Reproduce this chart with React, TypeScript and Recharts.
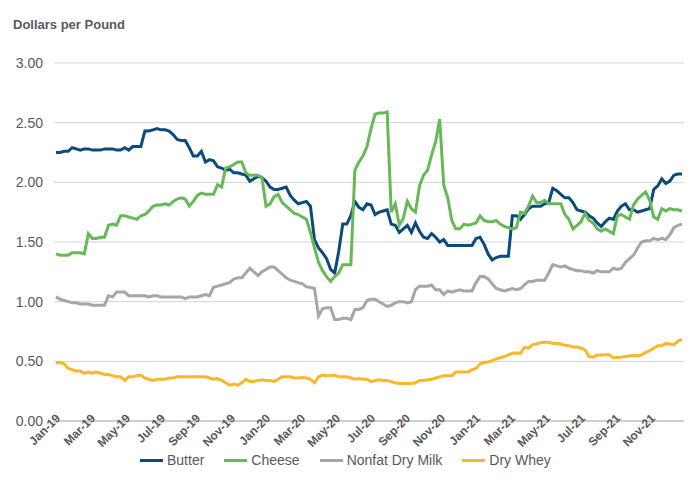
import { LineChart, Line, XAxis, YAxis, CartesianGrid } from 'recharts';

// weekly prices, Jan 2019 – Dec 2021, dollars per pound
const monthLabels = [
  'Jan-19', 'Mar-19', 'May-19', 'Jul-19', 'Sep-19', 'Nov-19',
  'Jan-20', 'Mar-20', 'May-20', 'Jul-20', 'Sep-20', 'Nov-20',
  'Jan-21', 'Mar-21', 'May-21', 'Jul-21', 'Sep-21', 'Nov-21',
];

const butter = [
  2.25, 2.25, 2.26, 2.26, 2.29, 2.28, 2.27, 2.28, 2.28, 2.27, 2.27, 2.27, 2.28, 2.28, 2.28, 2.27, 2.27, 2.29, 2.27, 2.30, 2.30, 2.30, 2.43, 2.43, 2.44, 2.45, 2.44,
  2.44, 2.43, 2.40, 2.36, 2.35, 2.35, 2.29, 2.22, 2.22, 2.26, 2.17, 2.19, 2.18, 2.13, 2.12, 2.10, 2.11, 2.08, 2.08, 2.07, 2.06, 2.01, 2.03, 2.05, 2.04, 2.01, 1.96,
  1.94, 1.94, 1.95, 1.96, 1.89, 1.85, 1.82, 1.83, 1.84, 1.80, 1.52, 1.45, 1.41, 1.36, 1.27, 1.24, 1.42, 1.65, 1.65, 1.72, 1.84, 1.79, 1.77, 1.82, 1.81, 1.73, 1.75,
  1.76, 1.77, 1.65, 1.64, 1.58, 1.61, 1.64, 1.58, 1.66, 1.59, 1.54, 1.53, 1.57, 1.54, 1.50, 1.52, 1.47, 1.47, 1.47, 1.47, 1.47, 1.47, 1.47, 1.53, 1.54, 1.48, 1.40,
  1.35, 1.37, 1.38, 1.38, 1.38, 1.72, 1.72, 1.69, 1.73, 1.78, 1.80, 1.80, 1.80, 1.82, 1.83, 1.95, 1.93, 1.90, 1.87, 1.87, 1.83, 1.77, 1.76, 1.75, 1.72, 1.70,
  1.66, 1.63, 1.67, 1.70, 1.69, 1.76, 1.80, 1.82, 1.77, 1.77, 1.75, 1.76, 1.77, 1.78, 1.94, 1.97, 2.03, 1.99, 2.01, 2.06, 2.07, 2.07,
];

const cheese = [
  1.40, 1.39, 1.39, 1.39, 1.41, 1.41, 1.41, 1.40, 1.57, 1.53, 1.53, 1.54, 1.54, 1.64, 1.65, 1.64, 1.72, 1.72, 1.71, 1.70, 1.69, 1.72, 1.73, 1.76, 1.80, 1.81, 1.81,
  1.82, 1.81, 1.84, 1.86, 1.87, 1.86, 1.80, 1.84, 1.89, 1.91, 1.90, 1.90, 1.90, 1.98, 1.96, 2.12, 2.13, 2.15, 2.17, 2.17, 2.08, 2.06, 2.06, 2.06, 2.04, 1.80, 1.82,
  1.88, 1.90, 1.83, 1.80, 1.77, 1.74, 1.73, 1.71, 1.69, 1.58, 1.45, 1.33, 1.26, 1.21, 1.17, 1.21, 1.24, 1.31, 1.31, 1.31, 2.10, 2.17, 2.22, 2.30, 2.45, 2.57, 2.58,
  2.58, 2.59, 1.75, 1.82, 1.64, 1.70, 1.84, 1.78, 1.75, 1.97, 2.06, 2.10, 2.23, 2.34, 2.53, 1.98, 1.87, 1.68, 1.61, 1.61, 1.65, 1.64, 1.65, 1.66, 1.72, 1.68, 1.67,
  1.67, 1.68, 1.65, 1.63, 1.62, 1.61, 1.62, 1.75, 1.74, 1.80, 1.885, 1.83, 1.83, 1.85, 1.82, 1.82, 1.82, 1.82, 1.73, 1.69, 1.61, 1.64, 1.67, 1.74, 1.68, 1.66,
  1.61, 1.59, 1.61, 1.59, 1.57, 1.72, 1.73, 1.71, 1.69, 1.81, 1.86, 1.89, 1.92, 1.85, 1.71, 1.69, 1.78, 1.76, 1.78, 1.77, 1.77, 1.76,
];

const nonfatDryMilk = [
  1.04, 1.02, 1.01, 1.00, 0.99, 0.99, 0.98, 0.98, 0.98, 0.97, 0.97, 0.97, 0.97, 1.05, 1.04, 1.08, 1.08, 1.08, 1.05, 1.05, 1.05, 1.05, 1.05, 1.04, 1.05, 1.05, 1.04,
  1.04, 1.04, 1.04, 1.04, 1.04, 1.025, 1.04, 1.04, 1.04, 1.05, 1.06, 1.05, 1.12, 1.13, 1.14, 1.15, 1.16, 1.19, 1.20, 1.20, 1.24, 1.28, 1.25, 1.22, 1.25, 1.27, 1.29,
  1.29, 1.26, 1.23, 1.20, 1.18, 1.17, 1.16, 1.15, 1.125, 1.12, 1.11, 0.88, 0.94, 0.95, 0.95, 0.85, 0.85, 0.86, 0.86, 0.85, 0.935, 0.935, 0.95, 1.01, 1.02, 1.02, 1.00,
  0.98, 0.96, 0.97, 0.99, 1.00, 1.00, 0.99, 1.00, 1.10, 1.13, 1.13, 1.13, 1.14, 1.10, 1.10, 1.06, 1.09, 1.08, 1.09, 1.10, 1.09, 1.09, 1.09, 1.16, 1.21, 1.21, 1.19,
  1.15, 1.11, 1.10, 1.09, 1.10, 1.11, 1.10, 1.11, 1.14, 1.17, 1.17, 1.18, 1.18, 1.18, 1.24, 1.31, 1.30, 1.29, 1.30, 1.28, 1.27, 1.26, 1.26, 1.25, 1.25, 1.24,
  1.26, 1.25, 1.25, 1.25, 1.28, 1.27, 1.28, 1.33, 1.36, 1.39, 1.45, 1.50, 1.51, 1.51, 1.53, 1.52, 1.53, 1.52, 1.56, 1.62, 1.64, 1.65,
];

const dryWhey = [
  0.49, 0.49, 0.48, 0.44, 0.43, 0.42, 0.42, 0.40, 0.41, 0.40, 0.41, 0.40, 0.39, 0.39, 0.38, 0.37, 0.37, 0.34, 0.37, 0.37, 0.38, 0.385, 0.36, 0.35, 0.34, 0.35, 0.35,
  0.35, 0.36, 0.36, 0.37, 0.37, 0.37, 0.37, 0.37, 0.37, 0.37, 0.37, 0.36, 0.35, 0.355, 0.34, 0.32, 0.30, 0.31, 0.30, 0.32, 0.35, 0.33, 0.33, 0.34, 0.345, 0.34, 0.34,
  0.33, 0.35, 0.37, 0.37, 0.37, 0.36, 0.36, 0.365, 0.36, 0.35, 0.32, 0.37, 0.385, 0.38, 0.38, 0.385, 0.37, 0.37, 0.37, 0.36, 0.35, 0.355, 0.35, 0.35, 0.33, 0.34, 0.345,
  0.34, 0.34, 0.33, 0.32, 0.315, 0.315, 0.315, 0.315, 0.32, 0.34, 0.34, 0.345, 0.35, 0.36, 0.37, 0.38, 0.38, 0.38, 0.41, 0.41, 0.41, 0.41, 0.43, 0.44, 0.48, 0.49, 0.495,
  0.505, 0.52, 0.53, 0.54, 0.555, 0.567, 0.57, 0.567, 0.617, 0.61, 0.64, 0.645, 0.655, 0.66, 0.66, 0.65, 0.65, 0.645, 0.635, 0.63, 0.62, 0.62, 0.61, 0.595, 0.54, 0.535,
  0.553, 0.553, 0.555, 0.555, 0.53, 0.533, 0.535, 0.54, 0.545, 0.55, 0.545, 0.555, 0.575, 0.59, 0.61, 0.63, 0.63, 0.65, 0.645, 0.638, 0.67, 0.685,
];

const yTicks = [0, 0.5, 1, 1.5, 2, 2.5, 3];
const WEEKS = 156;
const monthTicks = monthLabels.map((_, k) => (k * 2 * WEEKS) / 36);

const data = butter.map((b, i) => ({
  week: i + 0.5,
  butter: b,
  cheese: cheese[i],
  nonfatDryMilk: nonfatDryMilk[i],
  dryWhey: dryWhey[i],
}));

const series = [
  { key: 'butter', name: 'Butter', color: '#0b4a7d' },
  { key: 'cheese', name: 'Cheese', color: '#66b957' },
  { key: 'nonfatDryMilk', name: 'Nonfat Dry Milk', color: '#a6a6a6' },
  { key: 'dryWhey', name: 'Dry Whey', color: '#fbb72c' },
];

const textColor = '#595959';

const MonthTick = ({ x, y, payload }: any) => {
  const idx = monthTicks.findIndex((t) => Math.abs(t - payload.value) < 0.01);
  return (
    <g transform={`translate(${x + 7},${y - 9})`}>
      <text
        x={0}
        y={0}
        textAnchor="end"
        transform="rotate(-45)"
        fill={textColor}
        fontSize={12}
        fontWeight="bold"
        fontFamily="'Liberation Sans Narrow', 'Liberation Sans', Arial, sans-serif"
      >
        {monthLabels[idx]}
      </text>
    </g>
  );
};

export default function App() {
  return (
    <div style={{ position: 'absolute', left: 0, top: 0, width: 696, height: 494, background: '#fff' }}>
      <div
        style={{
          position: 'absolute', left: 13, top: 17, fontSize: 13, fontWeight: 'bold',
          color: textColor, fontFamily: "'Liberation Sans', Arial, sans-serif",
        }}
      >
        Dollars per Pound
      </div>
      <LineChart width={696} height={494} data={data} margin={{ top: 63, right: 12, bottom: 13, left: 0 }}>
        <CartesianGrid horizontal vertical={false} stroke="#d4d4d4" strokeWidth={1} />
        <XAxis
          dataKey="week"
          type="number"
          domain={[0, WEEKS]}
          ticks={monthTicks}
          interval={0}
          height={60}
          axisLine={{ stroke: '#c6c6c6', strokeWidth: 1.5 }}
          tickLine={{ stroke: '#c6c6c6' }}
          tickSize={5}
          tick={<MonthTick />}
        />
        <YAxis
          type="number"
          domain={[0, 3]}
          ticks={yTicks}
          width={54}
          axisLine={false}
          tickLine={false}
          tickSize={0}
          tickMargin={11}
          tickFormatter={(v) => v.toFixed(2)}
          tick={{ fill: textColor, fontSize: 14, fontFamily: "'Liberation Sans', Arial, sans-serif" }}
        />
        {series.map((s) => (
          <Line
            key={s.key}
            type="linear"
            dataKey={s.key}
            name={s.name}
            stroke={s.color}
            strokeWidth={3}
            dot={false}
            isAnimationActive={false}
          />
        ))}
      </LineChart>
      <div
        style={{
          position: 'absolute', left: 140, top: 452, display: 'flex', alignItems: 'center',
          fontSize: 14, color: textColor, fontFamily: "'Liberation Sans', Arial, sans-serif",
        }}
      >
        {series.map((s) => (
          <div key={s.key} style={{ display: 'flex', alignItems: 'center', marginRight: 20 }}>
            <span style={{ display: 'inline-block', width: 23, height: 3, background: s.color, marginRight: 4 }} />
            <span>{s.name}</span>
          </div>
        ))}
      </div>
    </div>
  );
}
